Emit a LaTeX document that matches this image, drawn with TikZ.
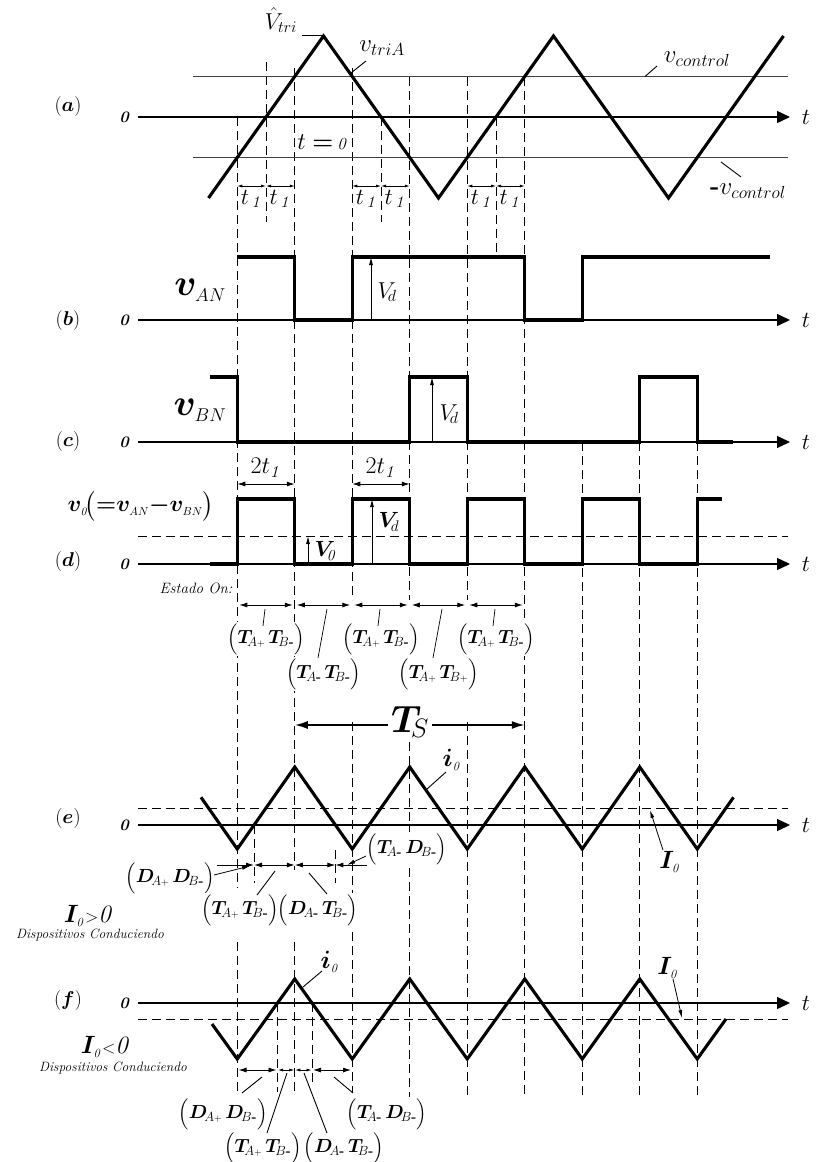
\RequirePackage{fix-cm}
\documentclass[tikz,border=0pt]{standalone}
\usepackage{amsmath,bm}
\usetikzlibrary{arrows.meta}
\newcommand{\fsz}[1]{\fontsize{#1}{#1}\selectfont}
\newcommand{\mn}{\text{\bfseries -}}
\newcommand{\sgn}[1]{{\scriptscriptstyle #1}}
\newcommand{\st}[4]{$\Bigl(\bm{#1}_{\!#2}\,\bm{#3}_{\!#4}\Bigr)$}
\tikzset{
 axis/.style={line width=1.4pt,-{Triangle[length=13pt,width=12pt]}},
 wave/.style={line width=3.1pt,line join=miter},
 ctrl/.style={line width=1.1pt,black!75},
 dsh/.style={line width=0.9pt,dash pattern=on 9pt off 5pt},
 lead/.style={line width=0.9pt},
 varr/.style={line width=0.8pt,-{Latex[length=8pt,width=4pt]}},
 sarr/.style={line width=0.9pt,{Latex[length=8pt,width=5pt]}-{Latex[length=8pt,width=5pt]}},
 tarr/.style={line width=0.7pt,{Latex[length=5pt,width=3pt]}-{Latex[length=5pt,width=3pt]}},
 harr/.style={line width=0.9pt,-{Latex[length=8pt,width=5pt]}},
 tsarr/.style={line width=1.8pt,-{Latex[length=13pt,width=8pt]}},
 cov/.style={fill=white,inner sep=0pt},
 stl/.style={cov,font=\fsz{19}},
}
\begin{document}
\begin{tikzpicture}[x=1pt,y=-1pt]
\useasboundingbox (0,0) rectangle (815,1162);
% ---------- dashed verticals
\foreach \x/\a/\b in {237.25/117/888, 237.25/942/1092, 266/62/222, 294.75/68/870, 294.75/942/1092,
  352.25/68/600, 352.25/722/1093, 381/117/222, 409.75/77/600, 409.75/742/1097,
  467.25/77/600, 467.25/722/1097, 496/117/257, 524.75/77/1097, 582.25/442/1097,
  639.75/442/1097, 697.25/442/1098, 254/825/883, 335.4/850/883, 277.5/1003/1092, 312/1003/1085}
  \draw[dsh] (\x,\a) -- (\x,\b);
% ---------- dashed horizontals
\foreach \y in {536,808,1019} \draw[dsh] (138,\y) -- (788,\y);
% ---------- control levels
\draw[ctrl] (193,76.5) -- (788,76.5);
\draw[ctrl] (193,157.5) -- (788,157.5);
% ---------- axes and labels
\foreach \n/\y/\ly in {a/117/106, b/320/320, c/442/441, d/564/561, e/825/818, f/1003/1000} {
  \coordinate (ax\n s) at (138,\y);
  \coordinate (ax\n e) at (790,\y);
  \draw[axis] (ax\n s) -- (ax\n e);
  \node (zero\n) at (124,\y) {\fsz{16}\bfseries\itshape 0};
  \node (tl\n) at (806,\y) {\fsz{23}$t$};
  \node (pl\n) at (68,\ly) {\fsz{20}$(\bm{\n})$};
}
% ---------- (a) triangle carrier
\draw[wave] (208.5,198) -- (323.5,36) -- (438.5,198) -- (553.5,36) -- (668.5,198) -- (783.5,36);
\foreach \a/\b in {237.25/266, 266/294.75, 352.25/381, 381/409.75, 467.25/496, 496/524.75} {
  \draw[tarr] (\a,186) -- (\b,186);
  \node (tone\a) at ({(\a+\b)/2},199) {\fsz{23}$t_{\,\mathit{1}}$};
}
\node (vtri) at (281,20) {\fsz{23}$\hat{V}_{tri}$};
\coordinate (vtriL) at (302,35.5); \coordinate (pk1) at (323.5,35.5);
\draw[lead] (vtriL) -- (pk1);
\node (vtriA) at (382,48) {\fsz{25}$v_{triA}$};
\coordinate (vtriAa) at (366,61); \coordinate (vtriAb) at (351,73);
\draw[lead] (vtriAa) -- (vtriAb);
\node (vctl) at (697,59) {\fsz{25}$v_{control}$};
\coordinate (vctla) at (657,66); \coordinate (vctlb) at (645,76.5);
\draw[lead] (vctla) -- (vctlb);
\node (mvctl) at (748,191) {\fsz{25}$\mbox{\bfseries -}v_{control}$};
\coordinate (mvca) at (741,177); \coordinate (mvcb) at (721,162);
\draw[lead] (mvca) -- (mvcb);
\node (tzero) at (322,142) {\fsz{24}$t\bm{=}$\,{\fsz{17}\textit{0}}};
% ---------- (b) vAN
\draw[wave] (237.25,257) -- (294.75,257) -- (294.75,320) -- (352.25,320) -- (352.25,257) -- (524.75,257)
  -- (524.75,320) -- (582.25,320) -- (582.25,257) -- (770,257);
\coordinate (vdb0) at (371,320); \coordinate (vdb1) at (371,257);
\draw[varr] (vdb0) -- (vdb1);
\node[anchor=west] (vdb) at (374,292) {\fsz{23}$V_{\!d}$};
\node (vanl) at (200,290) {\fsz{37}$\bm{v}_{\scriptscriptstyle AN}$};
% ---------- (c) vBN
\draw[wave] (209.5,377) -- (237.25,377) -- (237.25,442) -- (409.75,442) -- (409.75,377) -- (467.25,377)
  -- (467.25,442) -- (639.75,442) -- (639.75,377) -- (697.25,377) -- (697.25,442) -- (733,442);
\coordinate (vdc0) at (432,442); \coordinate (vdc1) at (432,377);
\draw[varr] (vdc0) -- (vdc1);
\node[anchor=west] (vdc) at (436,414) {\fsz{23}$V_{\!d}$};
\node (vbnl) at (200,410) {\fsz{37}$\bm{v}_{\scriptscriptstyle BN}$};
% ---------- (d) v0
\draw[wave] (210,564) -- (237.25,564) -- (237.25,499) -- (294.75,499) -- (294.75,564) -- (352.25,564)
  -- (352.25,499) -- (409.75,499) -- (409.75,564) -- (467.25,564) -- (467.25,499) -- (524.75,499)
  -- (524.75,564) -- (582.25,564) -- (582.25,499) -- (639.75,499) -- (639.75,564) -- (697.25,564)
  -- (697.25,499) -- (722,499);
\node (v0l) at (141,506) {\fsz{23}$\bm{v}_{\scriptscriptstyle\mathit{0}}\!\bigl({\bm{=}}\bm{v}_{\scriptscriptstyle AN}{\bm{-}}\bm{v}_{\scriptscriptstyle BN}\bigr)$};
\draw[sarr] (237.25,484) -- (294.75,484);
\node (tta) at (266,468) {\fsz{24}$2t_{\mathit{1}}$};
\draw[sarr] (352.25,484) -- (409.75,484);
\node (ttb) at (381,468) {\fsz{24}$2t_{\mathit{1}}$};
\coordinate (v00) at (308,564); \coordinate (v01) at (308,536);
\draw[varr] (v00) -- (v01);
\node[anchor=west] (v0lab) at (311,551) {\fsz{22}$\bm{V}_{\!\mathit{0}}$};
\coordinate (vdd0) at (372,564); \coordinate (vdd1) at (372,499);
\draw[varr] (vdd0) -- (vdd1);
\node[anchor=west] (vdd) at (375,522) {\fsz{22}$\bm{V}_{\!d}$};
\node (estado) at (196,588) {\fsz{15}\textit{Estado On:}};
\foreach \a/\b in {237.25/294.75, 294.75/352.25, 352.25/409.75, 409.75/467.25, 467.25/524.75}
  \draw[sarr] (\a+2,605) -- (\b-2,605);
\node[stl] (s1) at (266,639) {\st{T}{A\sgn{+}}{T}{B\mn}};
\node[stl] (s2) at (381,639) {\st{T}{A\sgn{+}}{T}{B\mn}};
\node[stl] (s3) at (496,639) {\st{T}{A\sgn{+}}{T}{B\mn}};
\node[stl] (s4) at (323.5,674) {\st{T}{A\mn}{T}{B\mn}};
\node[stl] (s5) at (438.5,674) {\st{T}{A\sgn{+}}{T}{B\sgn{+}}};
\foreach \i/\xa/\ya/\xb in {1/263/626/265, 2/378/626/380, 3/493/626/495, 4/318/658/327, 5/433/658/442}
  \draw[lead,line width=0.7pt] (\xa,\ya) -- (\xb,609);
% ---------- (e) io, I0>0
\draw[wave] (201,797.3) -- (237.25,849) -- (294.75,767) -- (352.25,849) -- (409.75,767) -- (467.25,849)
  -- (524.75,767) -- (582.25,849) -- (639.75,767) -- (697.25,849) -- (733.5,797.3);
\node (ts) at (410,722) {\fsz{38}$\bm{T}_{\!S}$};
\coordinate (tsL) at (294.75,725); \coordinate (tsR) at (524.75,725);
\draw[tsarr] (ts.west |- tsL) -- (tsL);
\draw[tsarr] (ts.east |- tsR) -- (tsR);
\node (ie) at (452,760) {\fsz{25}$\bm{i}_{\scriptscriptstyle\mathit{0}}$};
\coordinate (iea) at (446,772); \coordinate (ieb) at (427,789);
\draw[lead] (iea) -- (ieb);
\node (Ie) at (670,862) {\fsz{25}$\bm{I}_{\scriptscriptstyle\mathit{0}}$};
\coordinate (Iea) at (663,850); \coordinate (Ieb) at (650,810);
\draw[varr] (Iea) -- (Ieb);
\draw[harr] (217,865) -- (254,865);
\draw[sarr] (254,865) -- (294.75,865);
\draw[sarr] (294.75,865) -- (335.4,865);
\draw[harr] (376,865) -- (335.4,865);
\node[stl] (e1) at (170,878) {\st{D}{A\sgn{+}}{D}{B\mn}};
\node[stl] (e2) at (240,910) {\st{T}{A\sgn{+}}{T}{B\mn}};
\node[stl] (e3) at (318,910) {\st{D}{A\mn}{T}{B\mn}};
\node[stl] (e4) at (407,849) {\st{T}{A\mn}{D}{B\mn}};
\draw[varr] (214,875) -- (250,866);
\draw[lead] (257,895) -- (275,871);
\draw[lead] (309,873) -- (327,894);
\draw[varr] (366,856) -- (347,865);
\node (Igt) at (89,916) {\fsz{25}$\bm{I}_{\scriptscriptstyle\mathit{0}}{\scriptstyle >}\mathit{0}$};
\node (dc1) at (90,935) {\fsz{13.5}\textit{Dispositivos Conduciendo}};
% ---------- (f) io, I0<0
\draw[wave] (212,1024) -- (237.25,1059) -- (294.75,979) -- (352.25,1059) -- (409.75,979) -- (467.25,1059)
  -- (524.75,979) -- (582.25,1059) -- (639.75,979) -- (697.25,1059) -- (726,1019);
\node (if) at (330,962) {\fsz{25}$\bm{i}_{\scriptscriptstyle\mathit{0}}$};
\coordinate (ifa) at (322,971); \coordinate (ifb) at (303,987);
\draw[lead] (ifa) -- (ifb);
\node (If) at (668,968) {\fsz{25}$\bm{I}_{\scriptscriptstyle\mathit{0}}$};
\coordinate (Ifa) at (673,979); \coordinate (Ifb) at (682,1018);
\draw[varr] (Ifa) -- (Ifb);
\node (Ilt) at (106,1047) {\fsz{25}$\bm{I}_{\scriptscriptstyle\mathit{0}}{\scriptstyle <}\mathit{0}$};
\node (dc2) at (113,1068) {\fsz{13.5}\textit{Dispositivos Conduciendo}};
\draw[sarr] (238.5,1070) -- (276.5,1070);
\draw[tarr] (278,1070) -- (294.25,1070);
\draw[tarr] (295.25,1070) -- (311.5,1070);
\draw[sarr] (313,1070) -- (351,1070);
\node[stl] (f1) at (223,1114) {\st{D}{A\sgn{+}}{D}{B\mn}};
\node[stl] (f2) at (387,1114) {\st{T}{A\mn}{D}{B\mn}};
\node[stl] (f3) at (263,1148) {\st{T}{A\sgn{+}}{T}{B\mn}};
\node[stl] (f4) at (344,1148) {\st{D}{A\mn}{T}{B\mn}};
\draw[lead] (242,1093) -- (262,1077);
\draw[lead] (353,1093) -- (334,1077);
\draw[lead] (267,1133) -- (287,1073);
\draw[lead] (327,1133) -- (304,1073);
\end{tikzpicture}
\end{document}
